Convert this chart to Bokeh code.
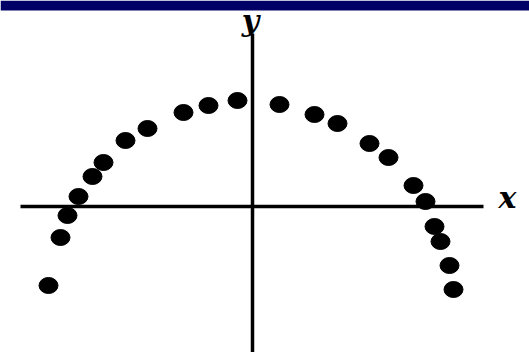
from bokeh.plotting import figure
from bokeh.models import BoxAnnotation, Range1d
from bokeh.core.properties import value
from bokeh.embed import file_html
from bokeh.resources import INLINE

# Measured points of a downward-opening curve, left branch then right branch
x_left = [-10.2, -9.6, -9.25, -8.7, -8.0, -7.45, -6.35, -5.25, -3.45, -2.2, -0.75]
y_left = [-3.95, -1.55, -0.45, 0.5, 1.5, 2.2, 3.3, 3.9, 4.7, 5.05, 5.3]
x_right = [1.35, 3.1, 4.25, 5.85, 6.8, 8.05, 8.65, 9.1, 9.4, 9.85, 10.05]
y_right = [5.1, 4.6, 4.15, 3.15, 2.45, 1.05, 0.25, -1.0, -1.75, -2.95, -4.15]

# Extent of the drawn coordinate axes
x_axis_span = [-11.6, 11.55]
y_axis_span = [-7.4, 8.65]
axis_labels = ["x", "y"]

p = figure(width=529, height=352, output_backend="svg", toolbar_location=None,
           x_range=Range1d(-12.6, 13.85), y_range=Range1d(-7.3, 10.3),
           min_border=0, background_fill_color="white", border_fill_color="white")
p.axis.visible = False
p.grid.visible = False
p.outline_line_color = None

# Coordinate axes through the origin
p.line(x_axis_span, [0, 0], line_color="black", line_width=3.5)
p.line([0, 0], y_axis_span, line_color="black", line_width=3.5)

xs = x_left + x_right
ys = y_left + y_right
p.ellipse(x=xs, y=ys, width=19, height=16, width_units="screen",
          height_units="screen", fill_color="black", line_color="black")

p.text(x=[12.75], y=[0.45], text=[axis_labels[0]], text_font=value("DejaVu Serif"),
       text_font_style="bold italic", text_font_size="30px",
       text_align="center", text_baseline="middle", text_color="black")
p.text(x=[-0.1], y=[9.3], text=[axis_labels[1]], text_font=value("DejaVu Serif"),
       text_font_style="bold italic", text_font_size="30px",
       text_align="center", text_baseline="middle", text_color="black")

# Dark band across the top edge
p.add_layout(BoxAnnotation(bottom=9.8, fill_color="#000066", fill_alpha=1.0,
                           line_color=None, level="overlay"))

open("out.html", "w").write(file_html(p, INLINE))
